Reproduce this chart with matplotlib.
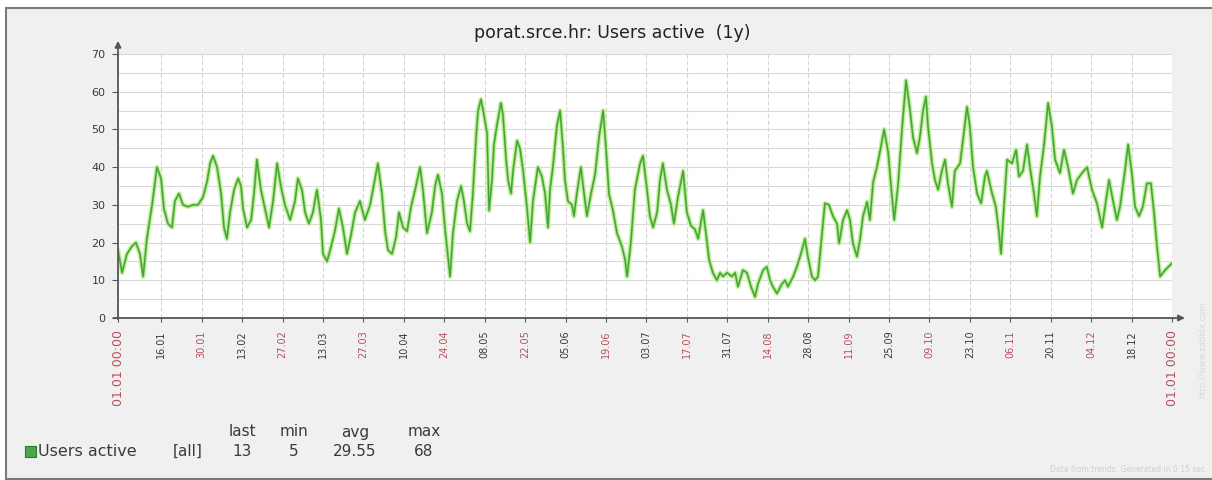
import matplotlib
matplotlib.use("Agg")
import matplotlib.pyplot as plt
from matplotlib.patches import Rectangle

# day of year (0 = 01.01 00:00) and average active users
day = [0, 1.4, 3.1, 4.8, 6.2, 7.6, 8.7, 10.0, 11.8, 13.5, 14.9, 15.9, 17.3, 18.7, 19.7,
       21.1, 22.5, 24.2, 26.0, 27.7, 29.4, 30.8, 31.9, 32.9, 34.3, 35.7, 36.7, 37.7, 38.8,
       40.2, 41.6, 42.6, 43.3, 44.7, 46.1, 47.1, 48.1, 49.5, 50.9, 52.3, 53.7, 55.1, 56.4,
       57.8, 59.6, 61.3, 62.3, 63.7, 64.8, 66.1, 67.5, 68.9, 70.3, 71.0, 72.4, 73.8, 75.1,
       76.5, 77.9, 79.3, 80.7, 82.1, 83.8, 85.5, 87.3, 89.0, 90.0, 91.4, 92.5, 93.5, 94.9,
       96.3, 97.3, 98.7, 100.1, 101.5, 102.9, 104.6, 105.6, 107.0, 108.7, 109.8, 110.8,
       112.2, 113.2, 114.3, 115.0, 116.0, 117.4, 118.8, 119.8, 120.9, 121.9, 122.9, 124.0,
       124.7, 125.7, 126.7, 127.8, 128.5, 129.5, 130.2, 131.2, 132.6, 133.3, 134.4, 135.1,
       136.1, 136.8, 138.2, 139.2, 140.3, 141.6, 142.7, 143.7, 145.4, 146.8, 147.9, 148.9,
       149.6, 150.6, 152.0, 153.1, 154.1, 154.8, 155.8, 157.2, 157.9, 158.9, 160.3, 161.4,
       162.4, 163.8, 165.2, 166.6, 168.0, 169.0, 170.0, 171.4, 172.8, 174.5, 175.6, 176.3,
       177.6, 179.0, 180.8, 181.8, 183.2, 184.2, 185.3, 186.7, 187.7, 188.7, 190.1, 191.5,
       192.5, 193.9, 195.7, 197.0, 198.4, 199.8, 200.9, 202.6, 203.6, 204.7, 206.0, 207.4,
       208.5, 209.5, 210.9, 212.6, 213.7, 214.7, 216.4, 217.8, 219.2, 220.6, 221.6, 223.4,
       224.7, 225.8, 226.8, 228.2, 229.9, 231.0, 232.0, 233.8, 235.1, 236.5, 237.9, 238.9,
       240.3, 241.4, 242.4, 243.8, 244.8, 246.2, 247.6, 249.0, 249.7, 251.1, 252.5, 253.5,
       254.5, 255.9, 257.0, 258.0, 259.4, 260.4, 261.5, 262.8, 264.2, 265.3, 266.7, 267.7,
       268.8, 270.1, 271.5, 272.9, 274.3, 275.3, 276.7, 277.7, 278.8, 279.8, 280.5, 281.9,
       282.9, 284.0, 285.3, 286.4, 287.4, 288.8, 289.8, 291.6, 292.6, 294.0, 295.0, 296.1,
       297.5, 298.9, 300.2, 300.9, 302.7, 304.0, 305.1, 305.8, 306.5, 307.9, 309.6, 311.0,
       312.0, 313.4, 314.8, 315.8, 317.2, 318.2, 319.3, 320.7, 322.1, 323.4, 324.5, 326.2,
       327.6, 329.0, 330.7, 332.1, 333.8, 335.6, 337.3, 339.0, 340.8, 342.1, 343.2, 344.6,
       345.9, 347.0, 348.7, 349.8, 351.1, 352.2, 353.6, 354.9, 356.3, 357.7, 358.8, 359.8,
       360.9, 362.6, 365.0]
users = [18, 12, 17, 19, 20, 17, 11, 21, 30, 40, 37, 29, 25, 24, 31,
         33, 30, 29.5, 30, 30, 32, 36, 41, 43, 40, 33, 24, 21, 28,
         34, 37, 35, 29, 24, 26, 33, 42, 34, 29, 24, 31, 41, 35,
         30, 26, 31, 37, 34, 28, 25, 28, 34, 26, 17, 15, 19, 23,
         29, 24, 17, 22, 28, 31, 26, 30, 37, 41, 33, 23, 18, 17,
         21.5, 28, 24, 23, 29.5, 34, 40, 34, 22.5, 28, 35, 38,
         33, 24, 16, 11, 22.5, 31, 35, 31, 25, 23, 33, 48,
         55, 58, 54, 49, 28.5, 36.5, 46, 51, 57, 54, 42, 36.5,
         33, 39, 47, 45, 39, 29.5, 20, 31, 40, 37.5, 33, 24,
         34, 40, 51, 55, 45, 36.5, 31, 30, 27, 33, 40, 33,
         27, 33, 38, 48, 55, 45, 33, 28.5, 22.5, 19, 15.5, 11,
         20, 34, 41, 43, 34, 27, 24, 28, 36.6, 41, 34, 30,
         25, 32, 39, 28, 24.5, 23.5, 21, 28.6, 22.5, 15.4, 12, 10,
         12, 11, 12, 11, 12, 8.3, 12.7, 12, 8.3, 5.6, 9, 12.7,
         13.6, 10, 8.3, 6.5, 9, 10, 8.3, 11, 13.6, 17, 21, 16.3,
         11, 10, 11, 22.5, 30.4, 30, 27, 25, 19.8, 26, 28.6, 26,
         19.8, 16.3, 21, 27, 30.8, 26, 36, 40, 45.4, 50, 44, 35,
         26, 35, 50, 63, 55, 48, 43.7, 48, 55, 58.7, 50.8, 41,
         36.6, 34, 39, 42, 35.7, 29.5, 39, 41, 47, 56, 50.8, 40,
         33, 30.4, 37.5, 39, 33, 29.5, 22.5, 17, 26, 42, 41, 44.6,
         37.5, 39, 46, 40, 33, 27, 37.5, 46, 57, 50.8, 42, 38.4,
         44.6, 40, 33, 36.6, 38.4, 40, 34, 30.4, 24, 31, 36.6, 31,
         26, 29.5, 39, 46, 38.4, 29.5, 27, 29.5, 35.7, 35.7, 27.8, 19,
         11, 12.7, 14.5]

tick_days = [0, 15, 29, 43, 57, 71, 85, 99, 113, 127, 141, 155, 169, 183, 197,
             211, 225, 239, 253, 267, 281, 295, 309, 323, 337, 351, 365]
tick_labels = ['01.01 00:00', '16.01', '30.01', '13.02', '27.02', '13.03', '27.03',
               '10.04', '24.04', '08.05', '22.05', '05.06', '19.06', '03.07', '17.07',
               '31.07', '14.08', '28.08', '11.09', '25.09', '09.10', '23.10', '06.11',
               '20.11', '04.12', '18.12', '01.01 00:00']

legend_name = 'Users active'
stat_names = ['last', 'min', 'avg', 'max']
stat_values = ['13', '5', '29.55', '68']

RED = '#b8505e'
GRAY_TXT = '#3a3a3a'

fig = plt.figure(figsize=(12.12, 4.8), dpi=100, facecolor='white')
fig.patches.append(Rectangle((6 / 1212, 0.003), 1.0, 1 - 8 / 480 - 0.003,
                             transform=fig.transFigure, facecolor='#f0f0f0',
                             edgecolor='#7a7a7a', lw=1.5, zorder=-5))

ax = fig.add_axes([118 / 1212, 1 - 318 / 480, 1054 / 1212, 264 / 480])
ax.set_zorder(2)
ax.set_facecolor('white')
for s in ax.spines.values():
    s.set_visible(False)

ax.set_xlim(0, 365)
ax.set_ylim(0, 70)

# grid
ax.set_yticks(range(0, 71, 10))
ax.set_yticks(range(5, 70, 10), minor=True)
ax.yaxis.grid(True, which='both', color='#d9d9d9', lw=0.8)
ax.set_xticks(tick_days)
ax.xaxis.grid(True, color='#d4d4d4', lw=0.8, linestyle=(0, (4, 2)))
ax.set_axisbelow(True)

ax.tick_params(axis='y', which='major', length=4, width=0.8, color='#555555',
               labelsize=8, labelcolor=GRAY_TXT, pad=5)
ax.tick_params(axis='y', which='minor', length=0)
ax.tick_params(axis='x', length=3, width=0.8, color='#555555', labelsize=7, pad=6)
ax.set_xticklabels(tick_labels, rotation=90, va='top', ha='center')
for i, lab in enumerate(ax.get_xticklabels()):
    if i == 0 or i == len(tick_labels) - 1:
        lab.set_color(RED)
        lab.set_fontsize(9)
    elif i % 2 == 0:
        lab.set_color(RED)
    else:
        lab.set_color(GRAY_TXT)

# series: light halo for min/max spread, then the average line
ax.plot(day, users, color='#d2f3b0', lw=3.6, solid_joinstyle='round', zorder=2)
ax.plot(day, users, color='#96dc74', lw=1.9, zorder=3)
ax.plot(day, users, color='#44a23a', lw=1.0, zorder=4)

# axes with arrows
arrow = dict(arrowstyle='-|>', color='#555555', lw=1.3, mutation_scale=9,
             shrinkA=0, shrinkB=0)
ax.annotate('', xy=(0, 73.5), xytext=(0, -0.3), xycoords='data',
            arrowprops=arrow, annotation_clip=False, zorder=6)
ax.annotate('', xy=(369.5, 0), xytext=(-1.6, 0), xycoords='data',
            arrowprops=arrow, annotation_clip=False, zorder=6)

fig.text(612 / 1212, 1 - 33 / 480, 'porat.srce.hr: Users active  (1y)',
         ha='center', va='center', fontsize=12.5, color='#222222')

# legend block
leg_y = 1 - 451 / 480
head_y = 1 - 432 / 480
fig.patches.append(Rectangle((25 / 1212, 1 - 457 / 480), 11 / 1212, 11 / 480,
                             transform=fig.transFigure, facecolor='#4aa84a',
                             edgecolor='#2f7a2f', lw=0.8))
fig.text(38 / 1212, leg_y, legend_name, ha='left', va='center', fontsize=11.5, color=GRAY_TXT)
fig.text(188 / 1212, leg_y, '[all]', ha='center', va='center', fontsize=11, color=GRAY_TXT)
stat_x = [242, 294, 355, 424]
for sx, name, val in zip(stat_x, stat_names, stat_values):
    fig.text(sx / 1212, head_y, name, ha='center', va='center', fontsize=11, color=GRAY_TXT)
    fig.text(sx / 1212, leg_y, val, ha='center', va='center', fontsize=11, color=GRAY_TXT)

fig.text(1205 / 1212, 1 - 470 / 480, 'Data from trends. Generated in 0.15 sec',
         ha='right', va='center', fontsize=5.5, color='#d0d0d0')
fig.text(1203 / 1212, 1 - 350 / 480, 'http://www.zabbix.com', rotation=90,
         ha='center', va='center', fontsize=6, color='#d8d8d8')

fig.savefig('out.png', dpi=100, facecolor=fig.get_facecolor())
